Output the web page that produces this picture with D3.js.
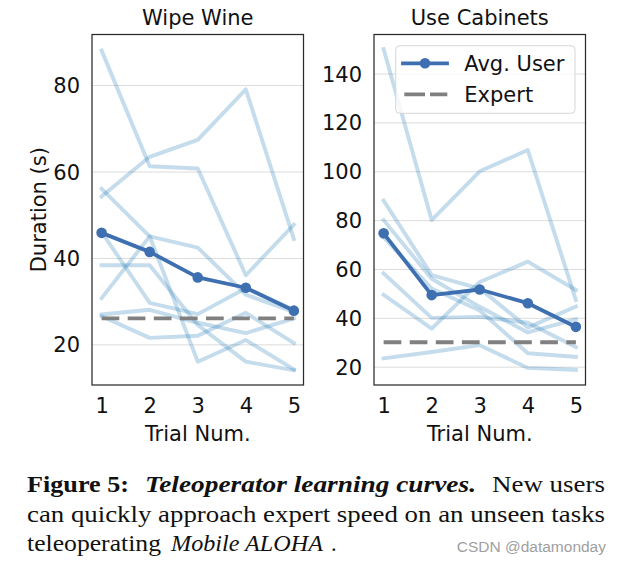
<!DOCTYPE html>
<html>
<head>
<meta charset="utf-8">
<script src="https://cdn.jsdelivr.net/npm/d3@7"></script>
<style>
  html, body { margin: 0; padding: 0; background: #fff; }
  svg { display: block; }
</style>
</head>
<body>
<svg id="chart" width="620" height="564"></svg>
<script>
// ---------------- data ----------------
const trials = [1, 2, 3, 4, 5];

const wipeTitle = "Wipe Wine";
const wipeUsers = [
  [88.0, 61.2, 60.7, 36.0, 47.7],
  [54.2, 63.4, 67.3, 79.0, 44.4],
  [56.0, 45.0, 42.4, 31.5, 27.5],
  [30.7, 45.0, 16.0, 21.0, 14.2],
  [46.0, 29.6, 27.0, 33.0, 28.0],
  [38.3, 38.3, 24.5, 16.0, 14.0],
  [26.9, 28.0, 25.0, 22.6, 26.0],
  [26.5, 21.5, 22.0, 27.3, 20.3]
];
const wipeAvg = [45.8, 41.4, 35.5, 33.1, 27.8];
const wipeExpert = 26;
const wipeTicks = [20, 40, 60, 80];
const wipeLimits = [10.6, 91.7];

const cabTitle = "Use Cabinets";
const cabUsers = [
  [150.0, 80.0, 100.0, 108.7, 47.3],
  [88.0, 57.5, 52.0, 36.0, 44.6],
  [80.0, 56.0, 44.5, 34.0, 39.5],
  [73.0, 52.0, 43.0, 25.5, 24.0],
  [58.2, 40.0, 40.4, 38.0, 28.0],
  [49.4, 35.6, 54.7, 63.0, 51.4],
  [23.4, 26.0, 28.8, 19.5, 18.7]
];
const cabAvg = [74.6, 49.3, 51.6, 46.0, 36.3];
const cabExpert = 30;
const cabTicks = [20, 40, 60, 80, 100, 120, 140];
const cabLimits = [12.5, 156.0];

const xLimits = [0.8, 5.2];
const xLabel = "Trial Num.";
const yLabel = "Duration (s)";
const legendLabels = ["Avg. User", "Expert"];

// ---------------- styles ----------------
const FONT = "'DejaVu Sans', sans-serif";
const FS = 21;
const lightColor = "#1f77b4";
const avgColor = "#3e6fb0";
const expertColor = "#808080";
const gridColor = "#dcdcdc";

const svg = d3.select("#chart");

function panel(cfg) {
  const x = d3.scaleLinear().domain(xLimits).range([cfg.x0, cfg.x1]);
  const y = d3.scaleLinear().domain(cfg.limits).range([cfg.y1, cfg.y0]);
  const g = svg.append("g");

  // grid
  const grid = g.append("g")
    .attr("transform", `translate(${cfg.x0},0)`)
    .call(d3.axisLeft(y).tickValues(cfg.ticks).tickSize(-(cfg.x1 - cfg.x0)).tickFormat(""));
  grid.select(".domain").remove();
  grid.selectAll("line").attr("stroke", gridColor).attr("stroke-width", 1);

  // user lines
  const line = d3.line().x((d, i) => x(trials[i])).y(d => y(d));
  g.append("g").selectAll("path").data(cfg.users).join("path")
    .attr("d", line)
    .attr("fill", "none")
    .attr("stroke", lightColor)
    .attr("stroke-opacity", 0.26)
    .attr("stroke-width", 3.9)
    .attr("stroke-linejoin", "round")
    .attr("stroke-linecap", "square");

  // expert dashed
  g.append("path")
    .attr("d", d3.line()([[x(trials[0]), y(cfg.expert)], [x(trials[trials.length - 1]), y(cfg.expert)]]))
    .attr("stroke", expertColor)
    .attr("stroke-width", 3.8)
    .attr("stroke-dasharray", "17.7,8.4")
    .attr("fill", "none");

  // average line
  g.append("path")
    .attr("d", line(cfg.avg))
    .attr("fill", "none")
    .attr("stroke", avgColor)
    .attr("stroke-width", 3.8)
    .attr("stroke-linejoin", "round")
    .attr("stroke-linecap", "square");
  g.append("g").selectAll("circle").data(cfg.avg).join("circle")
    .attr("cx", (d, i) => x(trials[i]))
    .attr("cy", d => y(d))
    .attr("r", 5.3)
    .attr("fill", avgColor);

  // frame
  g.append("rect")
    .attr("x", cfg.x0).attr("y", cfg.y0)
    .attr("width", cfg.x1 - cfg.x0).attr("height", cfg.y1 - cfg.y0)
    .attr("fill", "none").attr("stroke", "#2b2b2b").attr("stroke-width", 1.25);

  // y axis labels
  const ya = g.append("g")
    .attr("transform", `translate(${cfg.x0},0)`)
    .call(d3.axisLeft(y).tickValues(cfg.ticks).tickSize(0).tickPadding(12).tickFormat(d3.format("d")));
  ya.select(".domain").remove();
  ya.selectAll("text").attr("font-family", FONT).attr("font-size", FS).attr("fill", "#111").attr("dy", "0.36em");

  // x axis labels
  const xa = g.append("g")
    .attr("transform", `translate(0,${cfg.y1})`)
    .call(d3.axisBottom(x).tickValues(trials).tickSize(0).tickPadding(13.4).tickFormat(d3.format("d")));
  xa.select(".domain").remove();
  xa.selectAll("text").attr("font-family", FONT).attr("font-size", FS).attr("fill", "#111");

  // title
  g.append("text")
    .attr("x", (cfg.x0 + cfg.x1) / 2).attr("y", 25)
    .attr("text-anchor", "middle")
    .attr("font-family", FONT).attr("font-size", FS).attr("fill", "#111")
    .text(cfg.title);

  // x label
  g.append("text")
    .attr("x", (cfg.x0 + cfg.x1) / 2).attr("y", 441)
    .attr("text-anchor", "middle")
    .attr("font-family", FONT).attr("font-size", FS).attr("fill", "#111")
    .text(xLabel);

  return { x, y, g };
}

const left = panel({
  x0: 92, x1: 303.5, y0: 34.5, y1: 385,
  limits: wipeLimits, ticks: wipeTicks,
  users: wipeUsers, avg: wipeAvg, expert: wipeExpert, title: wipeTitle
});

const right = panel({
  x0: 374, x1: 585.5, y0: 34.5, y1: 385,
  limits: cabLimits, ticks: cabTicks,
  users: cabUsers, avg: cabAvg, expert: cabExpert, title: cabTitle
});

// y label
svg.append("text")
  .attr("transform", "translate(46,209.7) rotate(-90)")
  .attr("text-anchor", "middle")
  .attr("font-family", FONT).attr("font-size", FS).attr("fill", "#111")
  .text(yLabel);

// legend (right panel)
const lg = svg.append("g");
lg.append("rect")
  .attr("x", 395.7).attr("y", 45.7).attr("width", 179.3).attr("height", 67.6)
  .attr("rx", 4).attr("ry", 4)
  .attr("fill", "#fff").attr("fill-opacity", 0.8)
  .attr("stroke", "#d6d6d6").attr("stroke-width", 1);
lg.append("line")
  .attr("x1", 403).attr("x2", 447).attr("y1", 63.3).attr("y2", 63.3)
  .attr("stroke", avgColor).attr("stroke-width", 3.8).attr("stroke-linecap", "square");
lg.append("circle").attr("cx", 425).attr("cy", 63.3).attr("r", 5.3).attr("fill", avgColor);
lg.append("line")
  .attr("x1", 404.3).attr("x2", 447.3).attr("y1", 94.3).attr("y2", 94.3)
  .attr("stroke", expertColor).attr("stroke-width", 3.8).attr("stroke-dasharray", "20.7,5");
lg.selectAll("text.lab").data(legendLabels).join("text")
  .attr("class", "lab")
  .attr("x", 464.3).attr("y", (d, i) => 70.8 + i * 31)
  .attr("font-family", FONT).attr("font-size", FS).attr("fill", "#111")
  .text(d => d);

// caption
const SERIF = "'Liberation Serif', 'Times New Roman', serif";
const CFS = 22.5;
function cap(txt, xPos, yPos, len, weight, style) {
  const t = svg.append("text")
    .attr("x", xPos).attr("y", yPos)
    .attr("font-family", SERIF).attr("font-size", CFS).attr("fill", "#111")
    .attr("font-weight", weight || "normal").attr("font-style", style || "normal")
    .text(txt);
  if (len) t.attr("textLength", len).attr("lengthAdjust", "spacingAndGlyphs");
  return t;
}
cap("Figure 5:", 27, 492, 102, "bold");
cap("Teleoperator learning curves.", 145, 492, 331, "bold", "italic");
cap("New users", 492, 492, 113);
cap("can quickly approach expert speed on an unseen tasks", 27, 521.7, 578);
cap("teleoperating", 27, 550.5, 134);
cap("Mobile ALOHA", 171, 550.5, 152, "normal", "italic");
cap(".", 331, 550.5);

// watermark
svg.append("text")
  .attr("x", 606).attr("y", 552).attr("text-anchor", "end")
  .attr("font-family", "'Liberation Sans', Arial, sans-serif").attr("font-size", 15.5)
  .attr("fill", "#a0a0a0")
  .text("CSDN @datamonday");
</script>
</body>
</html>
